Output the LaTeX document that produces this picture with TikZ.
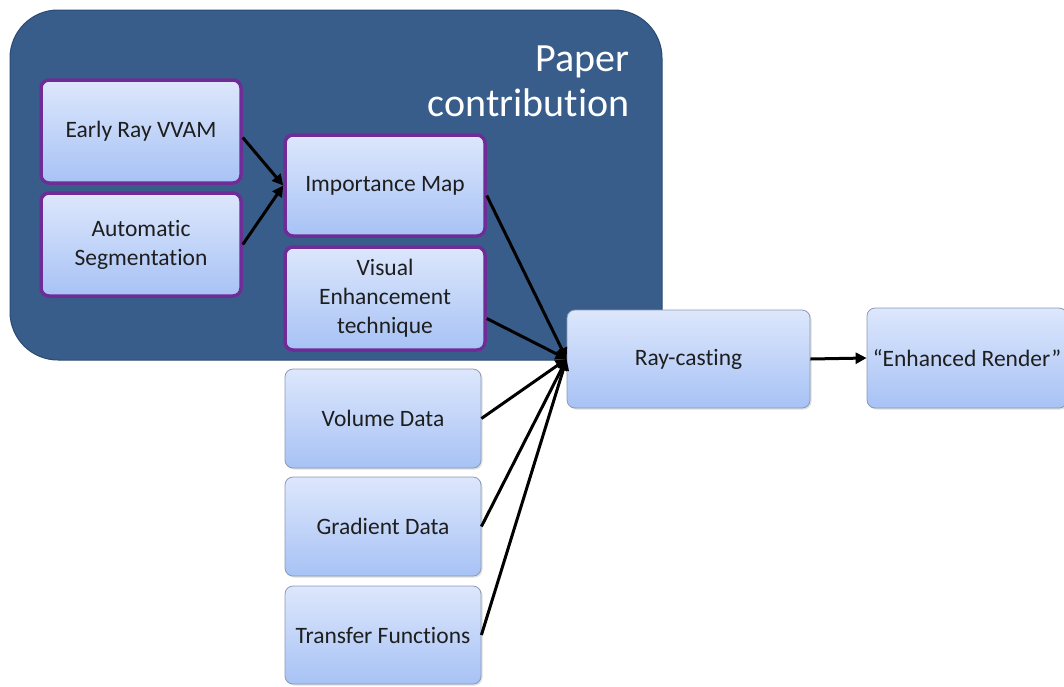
\documentclass[tikz,border=0pt]{standalone}
\usepackage{fontspec}
\setmainfont[Ligatures=CommonOff]{Carlito}
\usetikzlibrary{arrows.meta,shadows}
\definecolor{panelblue}{HTML}{385D8A}
\definecolor{paneledge}{HTML}{2B4A72}
\definecolor{boxtop}{HTML}{DDE7FC}
\definecolor{boxbot}{HTML}{A7C2F5}
\definecolor{boxedge}{HTML}{8A9AB4}
\definecolor{contribedge}{HTML}{6E2D96}
\definecolor{textgray}{HTML}{1E1E1E}
\tikzset{
  block/.style={rounded corners=8pt, top color=boxtop, bottom color=boxbot,
    draw=boxedge, line width=0.8pt, align=center, text=textgray,
    font=\fontsize{23.5}{29}\selectfont, inner sep=2pt,
    drop shadow={shadow xshift=1.5pt, shadow yshift=-1.5pt, opacity=0.25}},
  contrib/.style={block, draw=contribedge, line width=3.5pt},
  flow/.style={draw=black, line width=3pt, -{Triangle[length=11pt,width=11pt]}},
  title/.style={anchor=base east, text=white, font=\fontsize{40}{46}\selectfont},
}
\begin{document}
\begin{tikzpicture}[x=1pt,y=-1pt]
\useasboundingbox (0,0) rectangle (1064,686);
% highlighted region for the paper's contribution
\draw[fill=panelblue, draw=paneledge, line width=1pt, rounded corners=48pt]
  (10,10) rectangle (662,360);
\node[title] (t1) at (633,71) {Paper};
\node[title] (t2) at (633,116) {contribution};
% blocks
\node[contrib, minimum width=200pt, minimum height=103pt] (er) at (141,131.5) {Early Ray VVAM};
\node[contrib, minimum width=200pt, minimum height=103pt] (as) at (141,244.5) {Automatic\\Segmentation};
\node[contrib, minimum width=200pt, minimum height=101pt] (im) at (385,185.5) {Importance Map};
\node[contrib, minimum width=200pt, minimum height=103pt] (ve) at (385,298.5) {Visual\\Enhancement\\technique};
\node[block, minimum width=196pt, minimum height=99pt] (vd) at (383,418.5) {Volume Data};
\node[block, minimum width=196pt, minimum height=99pt] (gd) at (383,526.5) {Gradient Data};
\node[block, minimum width=196pt, minimum height=98pt] (tf) at (383,635) {Transfer Functions};
\node[block, minimum width=243pt, minimum height=98pt] (rc) at (688.5,359) {Ray-casting};
\node[block, minimum width=200pt, minimum height=100pt] (en) at (967,358) {“Enhanced Render”};
% connectors
\draw[flow] ([yshift=-6pt]er.east) -- (im.west);
\draw[flow] (as.east) -- (im.west);
\draw[flow] ([yshift=-10pt]im.east) -- (rc.west);
\draw[flow] ([yshift=-20pt]ve.east) -- (rc.west);
\draw[flow] (vd.east) -- (rc.west);
\draw[flow] (gd.east) -- (rc.west);
\draw[flow] (tf.east) -- (rc.west);
\draw[flow] (rc.east) -- (en.west);
\end{tikzpicture}
\end{document}
